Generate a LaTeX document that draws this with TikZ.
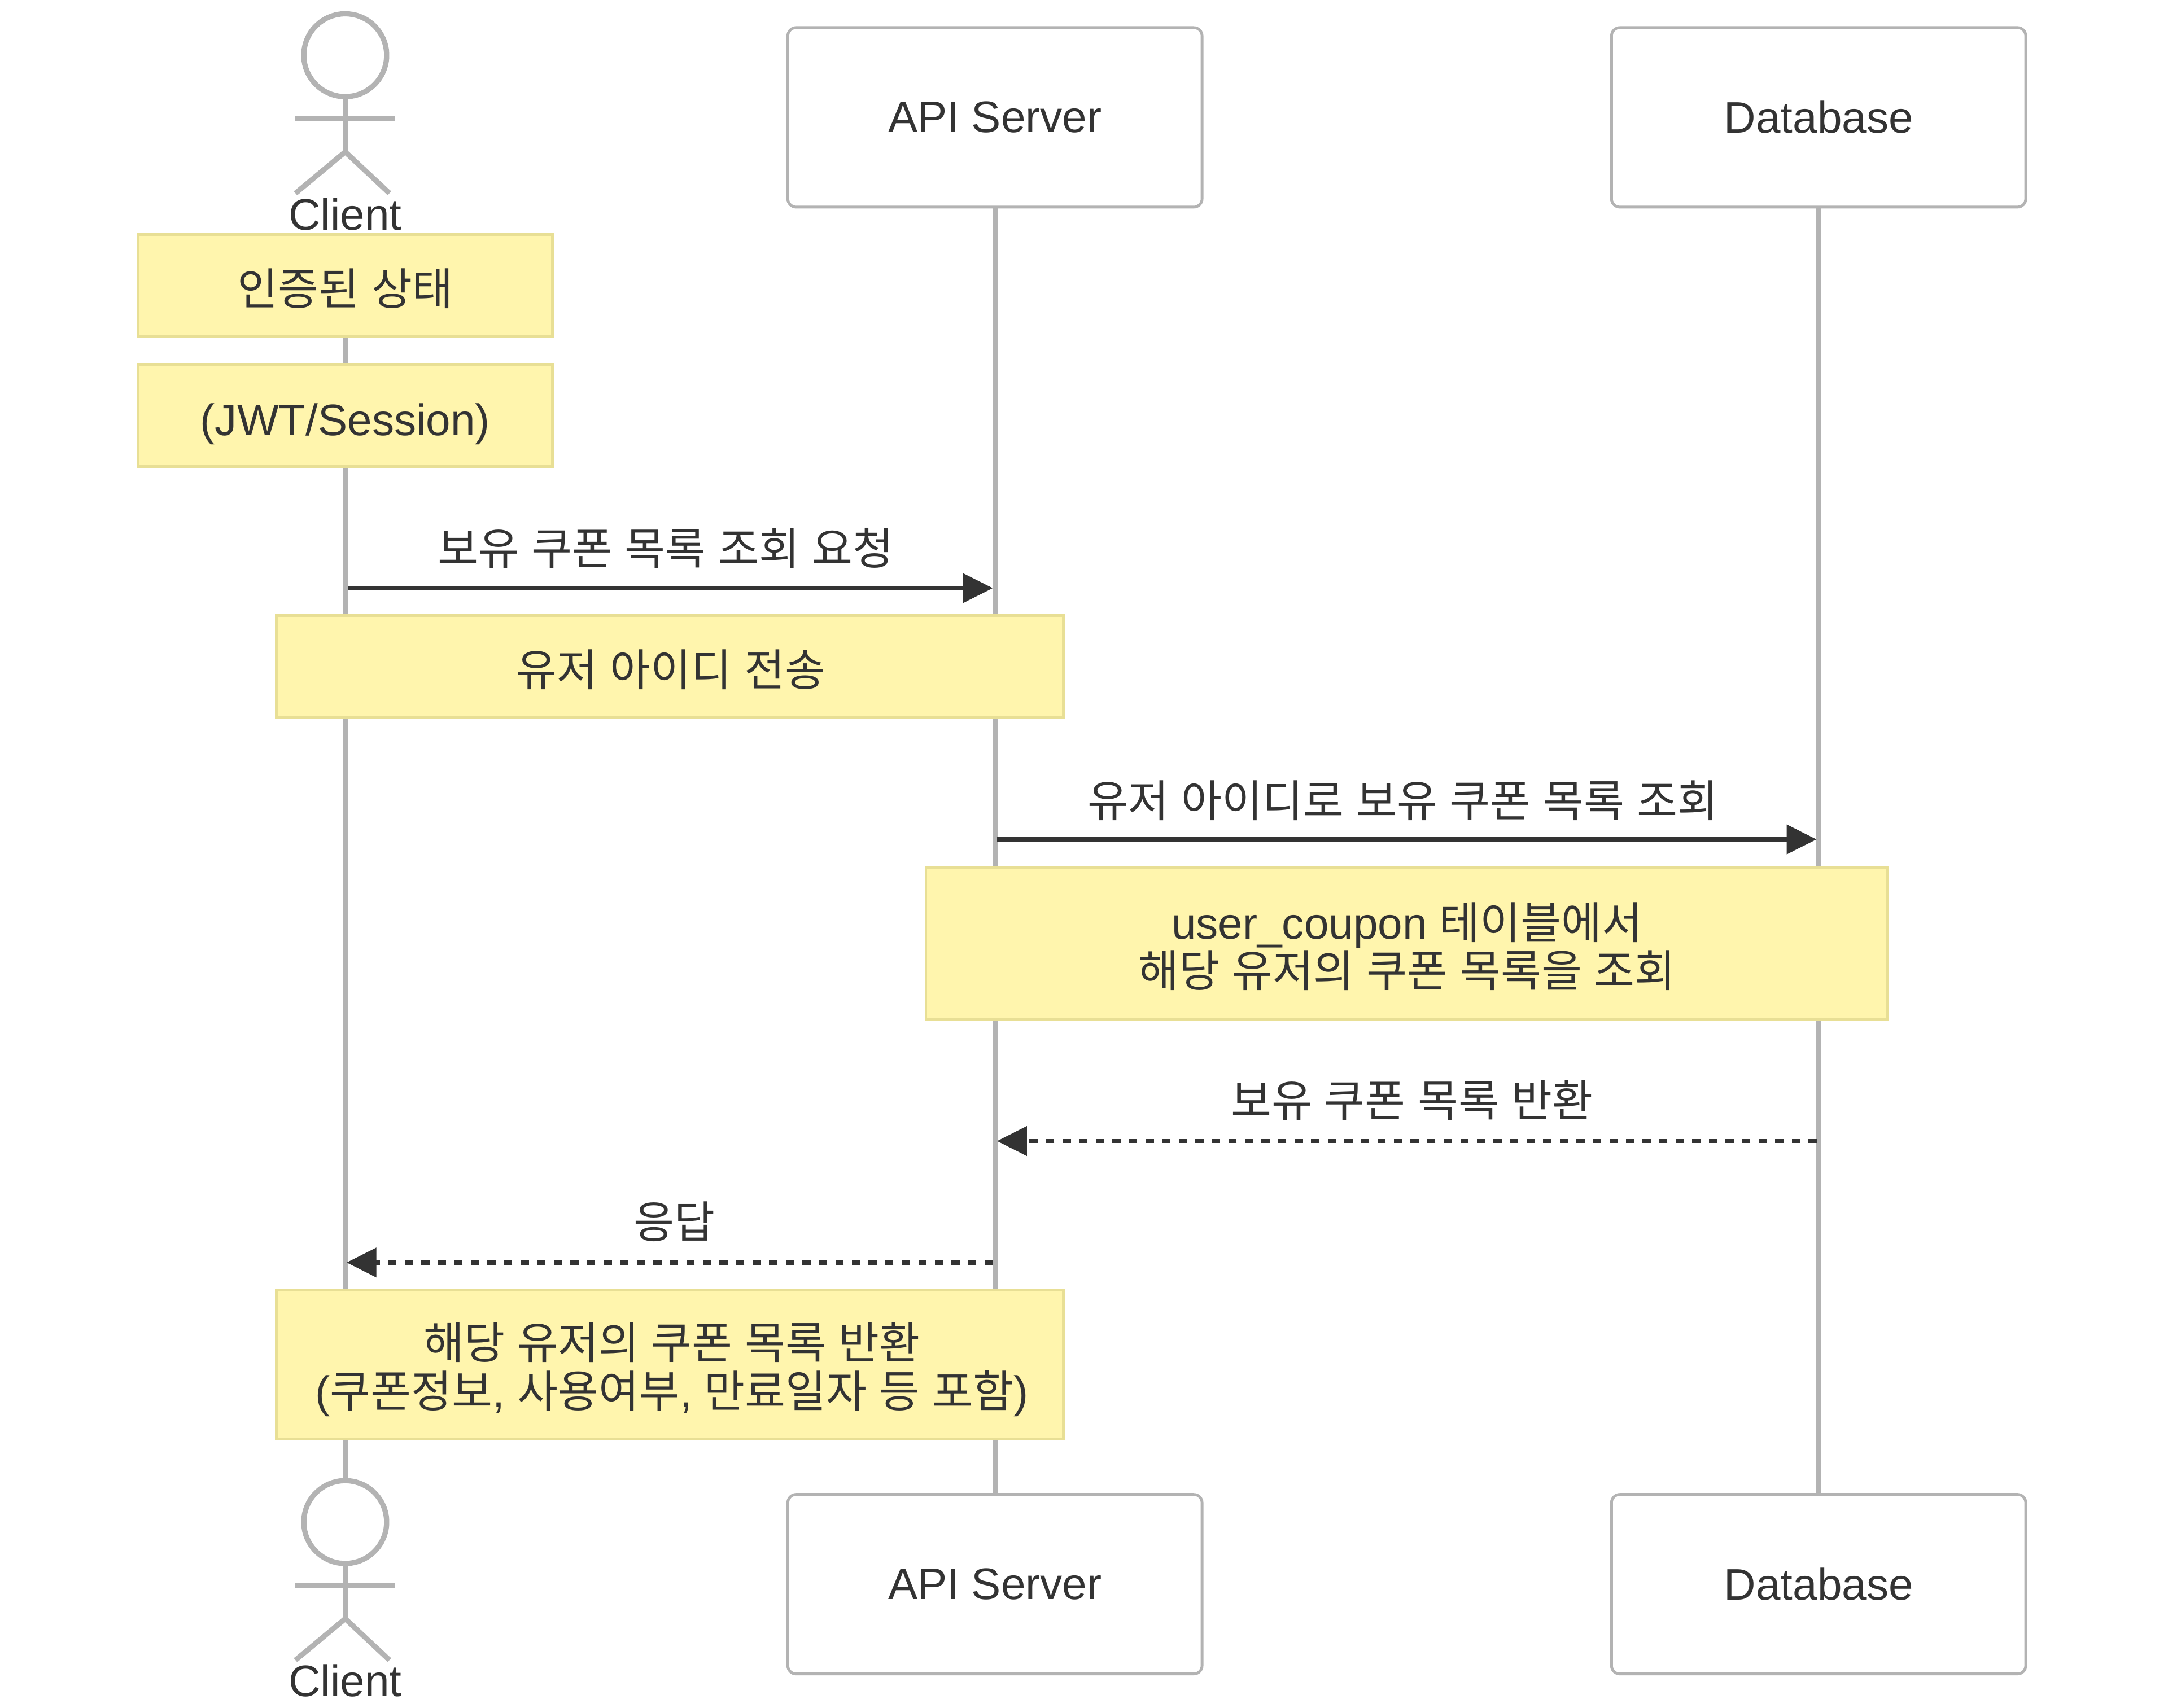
\documentclass[tikz,border=0pt]{standalone}
\usepackage{fontspec}
\setmainfont{Liberation Sans}
\newfontfamily\kr[WordSpace=1.24]{Noto Sans CJK KR}
\usepackage{xcolor}
\usetikzlibrary{arrows.meta,positioning}
\definecolor{inkc}{HTML}{333333}
\definecolor{linec}{HTML}{B3B3B3}
\definecolor{notefill}{HTML}{FFF5AD}
\definecolor{noteline}{HTML}{E8DF95}
\tikzset{
  every node/.style={font=\fontsize{16}{17.5}\selectfont,text=inkc,align=center},
  lifeline/.style={linec,line width=1.9pt},
  figline/.style={linec,line width=1.9pt},
  partbox/.style={draw=linec,fill=white,line width=1pt,rounded corners=3pt,
    minimum width=150pt,minimum height=65pt,inner sep=0pt},
  notebox/.style={draw=noteline,fill=notefill,line width=1pt,inner sep=0pt,minimum height=37pt},
  msg/.style={inkc,line width=1.5pt,-{Triangle[length=10.8pt,width=10.4pt]}},
  reply/.style={msg,line width=1.6pt,dash pattern=on 3pt off 3pt}
}
\begin{document}
\begin{tikzpicture}[x=0.5pt,y=-0.5pt]
  \useasboundingbox (0,0) rectangle (1570,1237.1);
  % lifelines
  \coordinate (clienttop) at (250,170);
  \coordinate (clientbot) at (250,1072);
  \node[partbox] (apitop) at (720.5,85) {API Server};
  \node[partbox] (dbtop) at (1317,85) {Database};
  \node[partbox] (apibot) at (720.5,1147.5) {API Server};
  \node[partbox] (dbbot) at (1317,1147.5) {Database};
  \draw[lifeline] (clienttop) -- (clientbot);
  \draw[lifeline] (apitop) -- (apibot);
  \draw[lifeline] (dbtop) -- (dbbot);
  % client figures
  \foreach \ytop/\figname in {0/clientfigtop,1062.5/clientfigbot}{
    \begin{scope}[yshift=-0.5*\ytop pt]
      \draw[figline,fill=white] (250,40) circle[radius=30];
      \draw[figline] (250,70) -- (250,110);
      \draw[figline] (214,86) -- (286,86);
      \draw[figline] (214,140) -- (250,110) -- (282,140);
      \node (\figname) at (250,155) {Client};
    \end{scope}
  }
  % messages
  \coordinate (askfrom) at (252,426);
  \coordinate (askto) at (719,426);
  \coordinate (queryfrom) at (722,608);
  \coordinate (queryto) at (1315.5,608);
  \coordinate (rowsfrom) at (1315.5,826.5);
  \coordinate (rowsto) at (722,826.5);
  \coordinate (respfrom) at (719,914.5);
  \coordinate (respto) at (251,914.5);
  \draw[msg] (askfrom) -- (askto);
  \draw[msg] (queryfrom) -- (queryto);
  \draw[reply] (rowsfrom) -- (rowsto);
  \draw[reply] (respfrom) -- (respto);
  \node (asklabel) at (482,397) {\kr 보유 쿠폰 목록 조회 요청};
  \node (querylabel) at (1016,580) {\kr 유저 아이디로 보유 쿠폰 목록 조회};
  \node (rowslabel) at (1022.5,797) {\kr 보유 쿠폰 목록 반환};
  \node (resplabel) at (488.5,885) {\kr 응답};
  % notes
  \node[notebox,minimum width=150pt] (noteauth) at (250,207) {};
  \node[notebox,minimum width=150pt] (notejwt) at (250,301) {};
  \node[notebox,minimum width=285pt] (notesend) at (485,483) {};
  \node[notebox,minimum width=348pt,minimum height=55pt] (notetable) at (1018.5,683.5) {};
  \node[notebox,minimum width=285pt,minimum height=54pt] (noteresult) at (485,988.5) {};
  \node (authtext) at (250,209) {\kr 인증된 상태};
  \node (jwttext) at (250,307) {(JWT/Session)};
  \node (sendtext) at (486,485) {\kr 유저 아이디 전송};
  \node (tabletext) at (1019,685.5)
    {user\_coupon {\kr 테이블에서}\\{\kr 해당 유저의 쿠폰 목록을 조회}};
  \node (resulttext) at (486.5,992)
    {{\kr 해당 유저의 쿠폰 목록 반환}\\({\kr 쿠폰정보}, {\kr 사용여부}, {\kr 만료일자 등 포함})};
\end{tikzpicture}
\end{document}
